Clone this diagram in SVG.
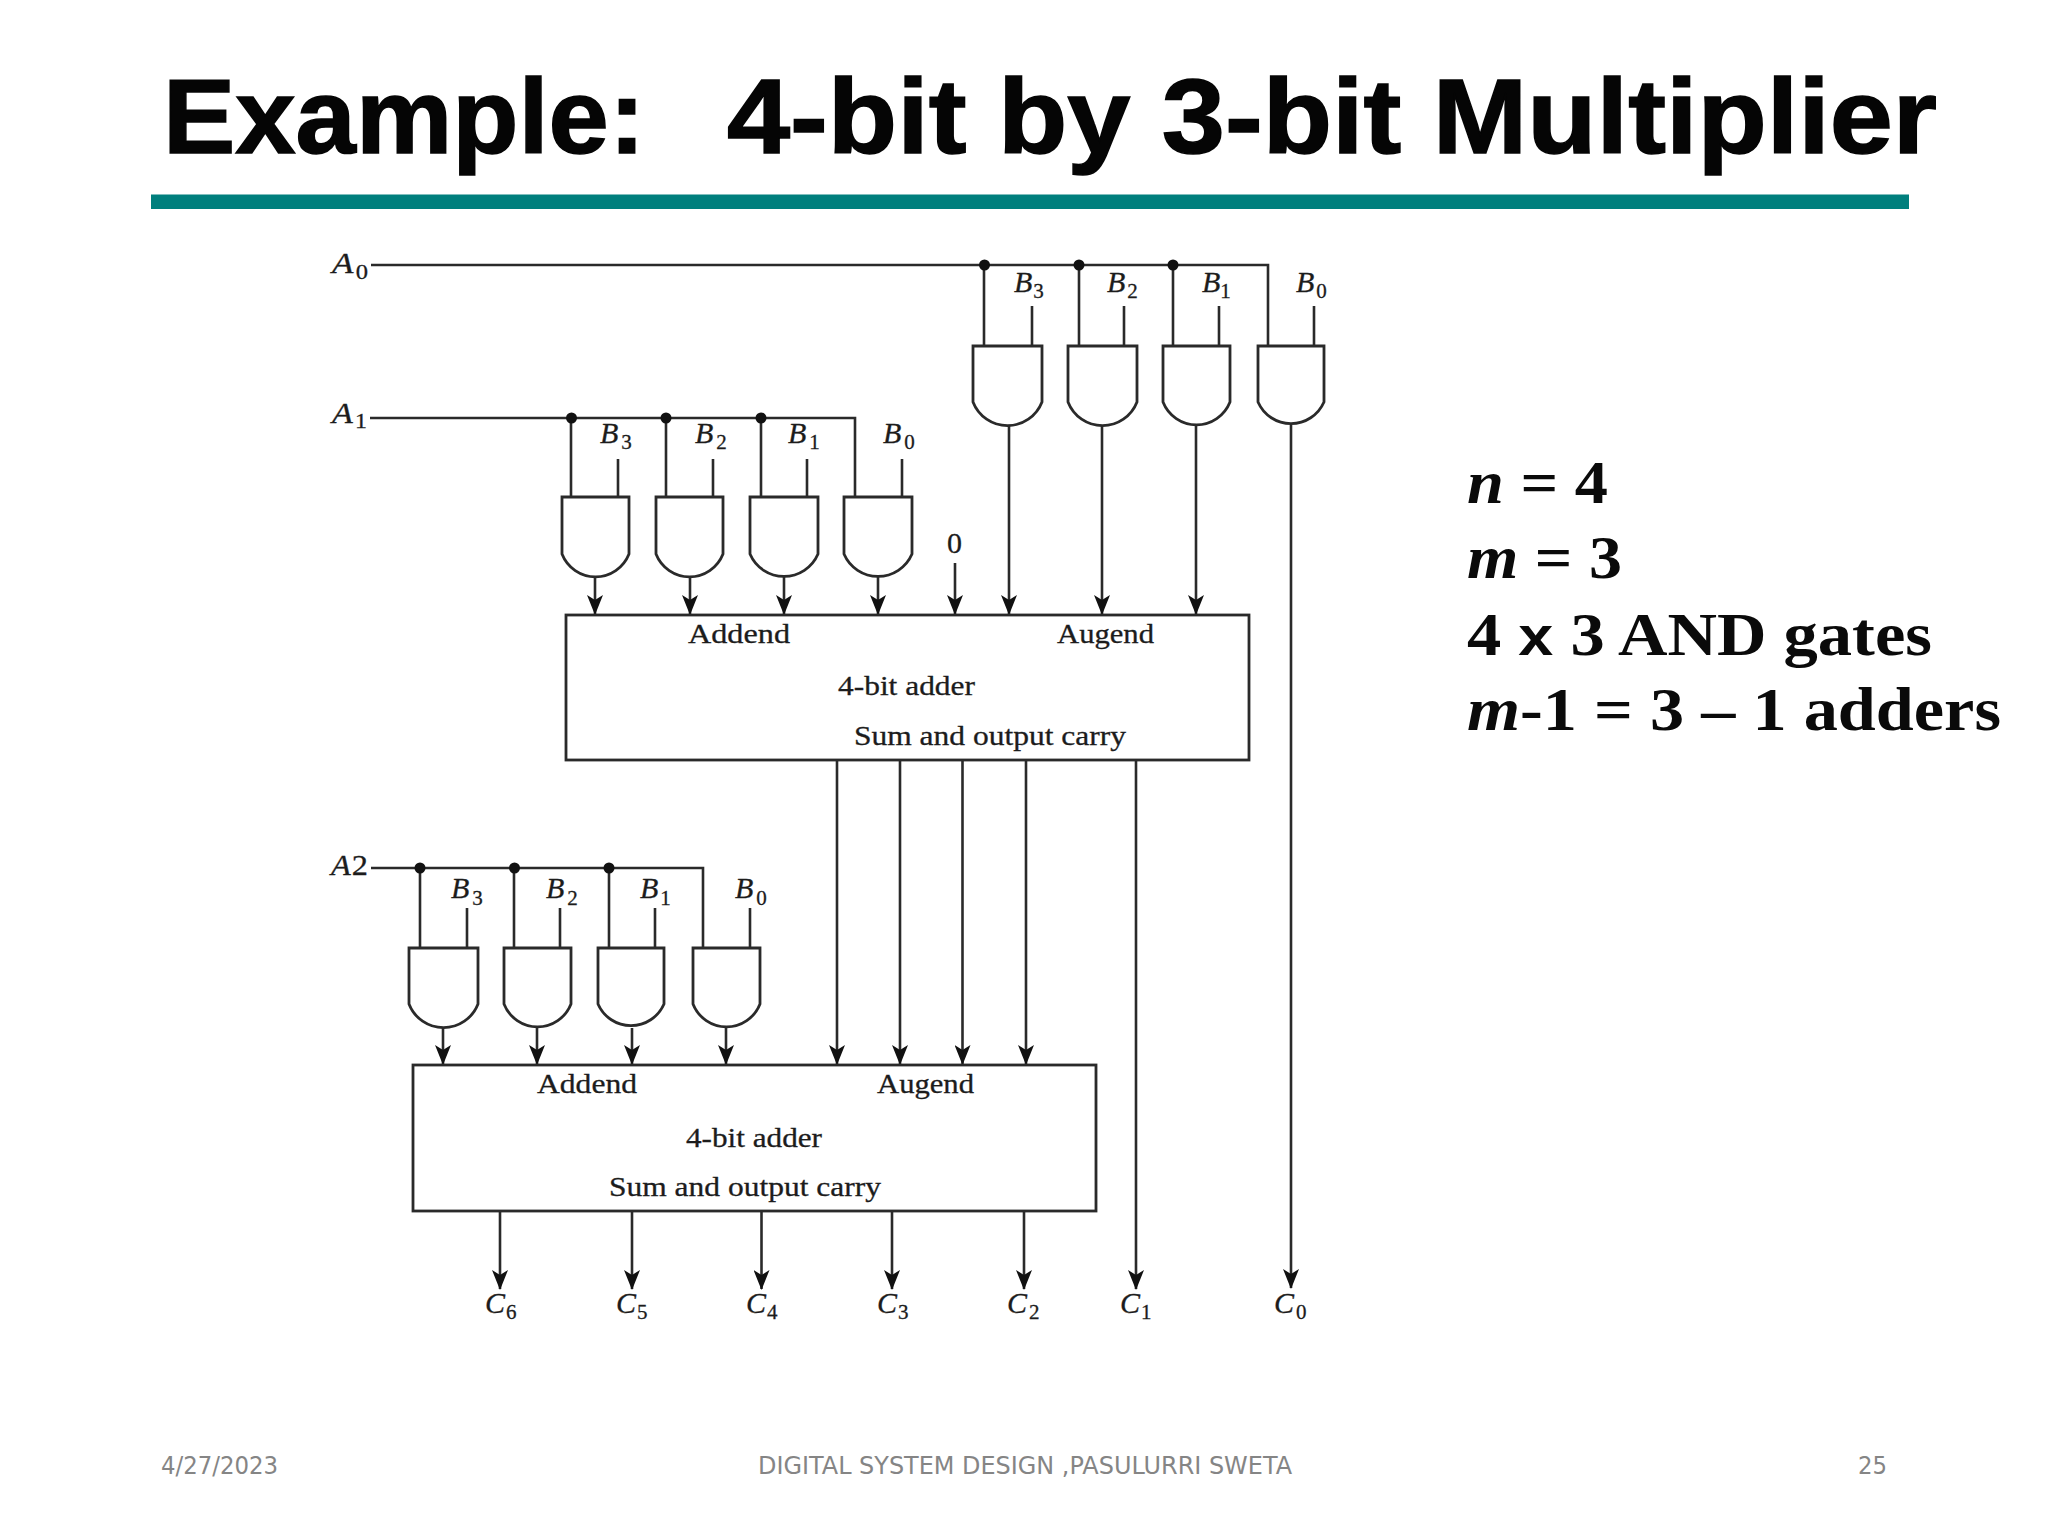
<svg xmlns="http://www.w3.org/2000/svg" width="2048" height="1536" viewBox="0 0 2048 1536">
<style>
.bg{fill:#fff}
.w{fill:none;stroke:#2a2a2a;stroke-width:2.6}
.ar{fill:none;stroke:#2a2a2a;stroke-width:2.6;marker-end:url(#a)}
.g{fill:#fff;stroke:#2a2a2a;stroke-width:2.8}
.b{fill:#fff;stroke:#2a2a2a;stroke-width:2.8}
.d{fill:#111}
text{font-family:"Liberation Serif","Times New Roman",serif;fill:#1c1c1c}
.t{font-size:27px;stroke:#1c1c1c;stroke-width:.3}
.i{font-size:30px;font-style:italic;stroke:#1c1c1c;stroke-width:.3}
.s{font-size:21px;font-style:normal}
.title{font-family:"Liberation Sans",Arial,sans-serif;font-weight:700;font-size:106px;fill:#050505;stroke:#050505;stroke-width:1.5}
.n{font-size:61px;font-weight:700;fill:#0a0a0a}
.n tspan{font-style:italic}
.n tspan.x{font-family:"Liberation Sans",Arial,sans-serif;font-style:normal;font-size:56px}
.f{font-family:"DejaVu Sans",Tahoma,sans-serif;font-size:24px;fill:#858585}
</style>
<defs>
<marker id="a" markerUnits="userSpaceOnUse" markerWidth="20" markerHeight="16" refX="19" refY="8" orient="auto" viewBox="0 0 20 16">
<path d="M20 8 L0 0 L5 8 L0 16 Z" fill="#111"/>
</marker>
</defs>
<rect class="bg" width="2048" height="1536"/>
<g id="header">
<text class="title" x="163" y="153"><tspan textLength="482" lengthAdjust="spacingAndGlyphs">Example:</tspan> <tspan x="727" textLength="1210" lengthAdjust="spacingAndGlyphs">4-bit by 3-bit Multiplier</tspan></text>
<rect x="151" y="194.500" width="1758" height="14.500" fill="#007f7d"/>
</g>
<g id="connectors">
<path class="w" d="M371 265H1268V346"/>
<path class="w" d="M984 265V346M1079 265V346M1173 265V346"/>
<path class="w" d="M1032 306V346M1124 306V346M1219 306V346M1314 306V346"/>
<path class="w" d="M370 418H855V497"/>
<path class="w" d="M571 418V497M666 418V497M761 418V497"/>
<path class="w" d="M618 459V497M713 459V497M807 459V497M902 459V497"/>
<path class="w" d="M371 868H703V948"/>
<path class="w" d="M420 868V948M514 868V948M609 868V948"/>
<path class="w" d="M467 908V948M560 908V948M655 908V948M750 908V948"/>
<path class="ar" d="M1009 425V614"/>
<path class="ar" d="M1102 425V614"/>
<path class="ar" d="M1196 425V614"/>
<path class="ar" d="M1291 425V1288"/>
<path class="ar" d="M595 577V614"/>
<path class="ar" d="M690 577V614"/>
<path class="ar" d="M784 577V614"/>
<path class="ar" d="M878 577V614"/>
<path class="ar" d="M955 563V614"/>
<path class="ar" d="M837 760V1064"/>
<path class="ar" d="M900 760V1064"/>
<path class="ar" d="M962.500 760V1064"/>
<path class="ar" d="M1026 760V1064"/>
<path class="ar" d="M1136 760V1289"/>
<path class="ar" d="M443 1028V1064"/>
<path class="ar" d="M537 1028V1064"/>
<path class="ar" d="M632 1028V1064"/>
<path class="ar" d="M726 1028V1064"/>
<path class="ar" d="M500 1211V1289"/>
<path class="ar" d="M632 1211V1289"/>
<path class="ar" d="M761.500 1211V1289"/>
<path class="ar" d="M892 1211V1289"/>
<path class="ar" d="M1024 1211V1289"/>
<circle class="d" cx="984.500" cy="265" r="5.500"/>
<circle class="d" cx="1079" cy="265" r="5.500"/>
<circle class="d" cx="1173" cy="265" r="5.500"/>
<circle class="d" cx="571.500" cy="418" r="5.500"/>
<circle class="d" cx="666" cy="418" r="5.500"/>
<circle class="d" cx="761" cy="418" r="5.500"/>
<circle class="d" cx="420" cy="868" r="5.500"/>
<circle class="d" cx="514.500" cy="868" r="5.500"/>
<circle class="d" cx="609" cy="868" r="5.500"/>
</g>
<g id="gate-a0-b3"><path class="g" d="M973 346H1042V402A37 37 0 0 1 973 402Z"/><text class="i" x="1014" y="292">B<tspan class="s" dx="1" dy="6">3</tspan></text></g>
<g id="gate-a0-b2"><path class="g" d="M1068 346H1137V402A37 37 0 0 1 1068 402Z"/><text class="i" x="1107" y="292">B<tspan class="s" dx="2" dy="6">2</tspan></text></g>
<g id="gate-a0-b1"><path class="g" d="M1163 346H1230V402A36 36 0 0 1 1163 402Z"/><text class="i" x="1202" y="292">B<tspan class="s" dy="6">1</tspan></text></g>
<g id="gate-a0-b0"><path class="g" d="M1258 346H1324V402A36 36 0 0 1 1258 402Z"/><text class="i" x="1296" y="292">B<tspan class="s" dx="2" dy="6">0</tspan></text></g>
<g id="gate-a1-b3"><path class="g" d="M562 497H629V554A36 36 0 0 1 562 554Z"/><text class="i" x="600" y="443">B<tspan class="s" dx="3" dy="6">3</tspan></text></g>
<g id="gate-a1-b2"><path class="g" d="M656 497H723V554A36 36 0 0 1 656 554Z"/><text class="i" x="695" y="443">B<tspan class="s" dx="3" dy="6">2</tspan></text></g>
<g id="gate-a1-b1"><path class="g" d="M750 497H818V554A37 37 0 0 1 750 554Z"/><text class="i" x="788" y="443">B<tspan class="s" dx="3" dy="6">1</tspan></text></g>
<g id="gate-a1-b0"><path class="g" d="M844 497H912V554A37 37 0 0 1 844 554Z"/><text class="i" x="883" y="443">B<tspan class="s" dx="3" dy="6">0</tspan></text></g>
<g id="gate-a2-b3"><path class="g" d="M409 948H478V1004A37 37 0 0 1 409 1004Z"/><text class="i" x="451" y="898">B<tspan class="s" dx="3" dy="7">3</tspan></text></g>
<g id="gate-a2-b2"><path class="g" d="M504 948H571V1004A36 36 0 0 1 504 1004Z"/><text class="i" x="546" y="898">B<tspan class="s" dx="3" dy="7">2</tspan></text></g>
<g id="gate-a2-b1"><path class="g" d="M598 948H664V1004A36 36 0 0 1 598 1004Z"/><text class="i" x="640" y="898">B<tspan class="s" dx="2" dy="7">1</tspan></text></g>
<g id="gate-a2-b0"><path class="g" d="M693 948H760V1004A36 36 0 0 1 693 1004Z"/><text class="i" x="735" y="898">B<tspan class="s" dx="3" dy="7">0</tspan></text></g>
<g id="adder-1">
<rect class="b" x="566" y="615" width="683" height="145"/>
<text class="t" x="688" y="643" textLength="102" lengthAdjust="spacingAndGlyphs">Addend</text>
<text class="t" x="1057" y="643" textLength="97" lengthAdjust="spacingAndGlyphs">Augend</text>
<text class="t" x="838" y="695" textLength="137" lengthAdjust="spacingAndGlyphs">4-bit adder</text>
<text class="t" x="854" y="745" textLength="272" lengthAdjust="spacingAndGlyphs">Sum and output carry</text>
</g>
<g id="adder-2">
<rect class="b" x="413" y="1065" width="683" height="146"/>
<text class="t" x="537" y="1093" textLength="100" lengthAdjust="spacingAndGlyphs">Addend</text>
<text class="t" x="877" y="1093" textLength="97" lengthAdjust="spacingAndGlyphs">Augend</text>
<text class="t" x="686" y="1147" textLength="136" lengthAdjust="spacingAndGlyphs">4-bit adder</text>
<text class="t" x="609" y="1196" textLength="272" lengthAdjust="spacingAndGlyphs">Sum and output carry</text>
</g>
<g id="input-a0"><text class="i" x="332" y="273" textLength="36" lengthAdjust="spacingAndGlyphs">A<tspan class="s" dx="2" dy="6">0</tspan></text></g>
<g id="input-a1"><text class="i" x="332" y="423" textLength="35" lengthAdjust="spacingAndGlyphs">A<tspan class="s" dx="2" dy="5">1</tspan></text></g>
<g id="input-a2"><text class="i" x="331" y="875" textLength="37" lengthAdjust="spacingAndGlyphs">A<tspan style="font-style:normal" dx="1">2</tspan></text></g>
<g id="input-zero"><text class="i" style="font-style:normal" x="947" y="553">0</text></g>
<g id="output-c6"><text class="i" x="485" y="1313">C<tspan class="s" dx="1" dy="6">6</tspan></text></g>
<g id="output-c5"><text class="i" x="616" y="1313">C<tspan class="s" dx="1" dy="6">5</tspan></text></g>
<g id="output-c4"><text class="i" x="746" y="1313">C<tspan class="s" dx="1" dy="6">4</tspan></text></g>
<g id="output-c3"><text class="i" x="877" y="1313">C<tspan class="s" dx="1" dy="6">3</tspan></text></g>
<g id="output-c2"><text class="i" x="1007" y="1313">C<tspan class="s" dx="2" dy="6">2</tspan></text></g>
<g id="output-c1"><text class="i" x="1120" y="1313">C<tspan class="s" dx="1" dy="6">1</tspan></text></g>
<g id="output-c0"><text class="i" x="1274" y="1313">C<tspan class="s" dx="2" dy="6">0</tspan></text></g>
<g id="notes">
<text class="n" x="1467" y="503" textLength="141" lengthAdjust="spacingAndGlyphs"><tspan>n</tspan> = 4</text>
<text class="n" x="1467" y="578" textLength="155" lengthAdjust="spacingAndGlyphs"><tspan>m</tspan> = 3</text>
<text class="n" x="1467" y="655" textLength="465" lengthAdjust="spacingAndGlyphs">4 <tspan class="x">x</tspan> 3 AND gates</text>
<text class="n" x="1467" y="730" textLength="534" lengthAdjust="spacingAndGlyphs"><tspan>m</tspan>-1 = 3 – 1 adders</text>
</g>
<g id="footer">
<text class="f" x="161" y="1474" textLength="117" lengthAdjust="spacingAndGlyphs">4/27/2023</text>
<text class="f" x="758" y="1474" textLength="534" lengthAdjust="spacingAndGlyphs">DIGITAL SYSTEM DESIGN ,PASULURRI SWETA</text>
<text class="f" x="1858" y="1474" textLength="29" lengthAdjust="spacingAndGlyphs">25</text>
</g>
</svg>
